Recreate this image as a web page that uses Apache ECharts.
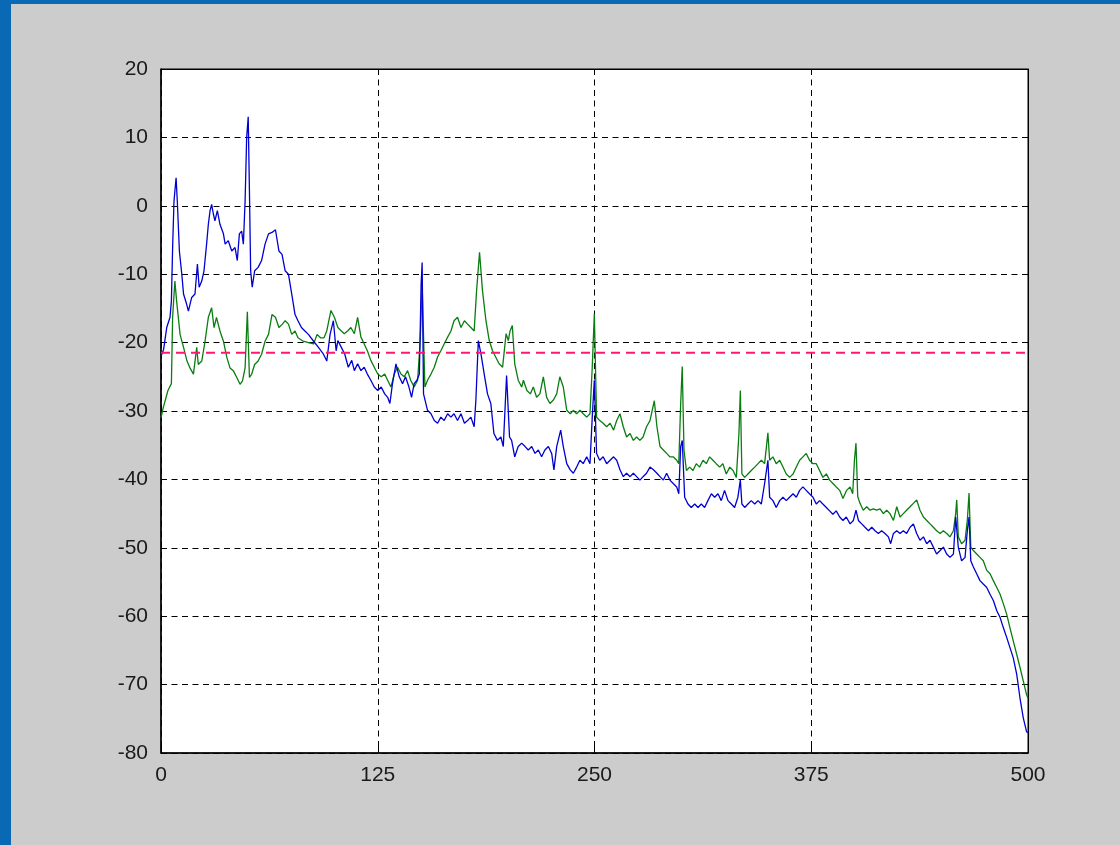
<!DOCTYPE html>
<html>
<head>
<meta charset="utf-8">
<title>spectrum</title>
<script src="https://cdn.jsdelivr.net/npm/echarts@6/dist/echarts.min.js"></script>
<style>
  html, body { margin: 0; padding: 0; background: #0a69b4; }
  #frame { position: absolute; left: 0; top: 0; width: 1120px; height: 845px; background: #0a69b4; }
  #chart { position: absolute; left: 11px; top: 4px; width: 1109px; height: 841px; background: #cccccc; }
</style>
</head>
<body>
<div id="frame"><div id="chart"></div></div>
<script>
// x axis ticks (0..500) and y ticks (-80..20)
const xTicks = [0, 125, 250, 375, 500];
const yTicks = [-80, -70, -60, -50, -40, -30, -20, -10, 0, 10, 20];

// threshold (red dashed)
const thresholdLevel = -21.5;

// blue curve, [x, level]
const blueLevel = [
  [0,-22],[1.5,-21],[3.3,-17.8],[5.2,-16.3],[6,-13.9],[6.7,-6.1],[7.5,0.7],[8.7,4.1],[9.4,0.7],[10.6,-6.6],
  [12,-10],[13,-12.9],[14.8,-14.4],[15.8,-15.4],[17.7,-13.4],[19.6,-12.9],[21,-8.5],[22,-11.9],[23.5,-11],[24.8,-9.5],
  [26.3,-5.6],[27.3,-2.7],[28.3,-0.7],[29.2,0.2],[30.2,-1.2],[31.1,-2.2],[32.5,-0.7],[34,-2.7],[36,-4.1],[37,-5.6],
  [38.8,-5.1],[40.8,-6.6],[42.7,-6.1],[44,-8],[45.2,-4.1],[46.5,-3.7],[47.5,-5.6],[48.5,0.7],[49.4,10],[50.3,13],
  [51,2.2],[51.7,-9.5],[52.6,-11.9],[54,-9.5],[56,-9],[58,-8],[60,-5.6],[62,-4.1],[64,-3.9],[66,-3.5],
  [68,-6.6],[69.8,-7.1],[71.6,-9.5],[73.5,-10],[75.4,-12.9],[77.3,-15.9],[79,-16.8],[81,-17.8],[83,-18.3],[85,-18.8],
  [88,-19.8],[90.8,-20.7],[93.7,-21.7],[95.6,-22.7],[97.5,-18.8],[99.4,-16.8],[101,-21.2],[102,-19.7],[104,-20.7],[106,-21.7],
  [108,-23.6],[110,-22.6],[111.5,-24.1],[113.4,-23.1],[115.3,-24.1],[117.2,-23.6],[119,-24.6],[121,-25.5],[123,-26.5],[125,-27],
  [127,-26.5],[129,-27.5],[130.7,-28],[132,-28.9],[133.5,-26],[135.5,-23.1],[137.4,-25],[139.3,-26],[141,-25],[143,-26.5],
  [144.5,-28],[146,-26],[147.6,-25.5],[149,-24.6],[150,-11.5],[150.6,-8.3],[151.4,-27.5],[153.7,-29.9],[155.7,-30.4],[157.6,-31.4],
  [159.5,-31.8],[161.4,-30.9],[163.3,-31.4],[165.3,-30.4],[167.2,-30.9],[169,-30.4],[171,-31.4],[173,-30.4],[175,-31.8],[176.8,-31.4],
  [178.7,-30.9],[180.6,-32.3],[181.6,-28.4],[183,-19.7],[184.5,-21.6],[186.4,-24.6],[188.3,-27.5],[190.2,-28.9],[192,-33.3],[194,-34.3],
  [196,-33.8],[197.4,-35.2],[199.3,-24.8],[201,-33.8],[202.2,-34.3],[204,-36.7],[206,-35.2],[208,-34.7],[210,-35.2],[211.8,-35.7],
  [213.8,-35.2],[215.7,-36.2],[217.6,-35.7],[219.5,-36.7],[221.4,-35.7],[223.4,-35.2],[225.3,-36.2],[226.6,-38.6],[228.2,-35.2],[230.5,-32.8],
  [232,-35.2],[234,-37.7],[236,-38.6],[237.8,-39.1],[239.7,-38.2],[241.6,-37.2],[243.5,-37.7],[245.5,-36.7],[247.4,-37.7],[248.7,-30.9],
  [249.9,-25.5],[251.2,-36.2],[253,-37.2],[255,-36.7],[257,-37.7],[259,-37.2],[261,-36.7],[262.8,-37.2],[264.7,-38.6],[266.6,-39.6],
  [268.5,-39.1],[270.5,-39.6],[272.4,-39.1],[274.3,-39.6],[276.2,-40.1],[278,-39.6],[280,-39.1],[282,-38.2],[284,-38.6],[286,-39.1],
  [287.8,-39.6],[289.7,-40.1],[291.6,-39.1],[293.5,-40.1],[295.4,-40.6],[297.4,-41.1],[298.6,-42.1],[299.7,-35.2],[300.6,-34.3],[302,-42.6],
  [303.9,-43.6],[305.8,-44.1],[307.8,-43.6],[309.7,-44.1],[311.6,-43.6],[313.5,-44.1],[315.4,-43.1],[317.4,-42.1],[319.3,-42.6],[321.2,-42.1],
  [323.1,-43.1],[325,-41.6],[327,-43.1],[328.9,-43.6],[330.8,-44.1],[332.7,-42.6],[334.1,-40.1],[335,-43.6],[336.6,-44.1],[338.5,-43.6],
  [340.4,-43.1],[342.4,-43.6],[344.3,-43.1],[346.2,-43.6],[348.1,-40.6],[350,-37.2],[351,-42.6],[352.9,-43.1],[354.8,-44.1],[356.8,-43.1],
  [358.7,-42.6],[360.6,-43.1],[362.5,-42.6],[364.5,-42.1],[366.4,-42.6],[368.3,-41.6],[370.2,-41.1],[372.1,-41.6],[374,-42.1],[376,-42.6],
  [377.9,-43.6],[379.8,-43.1],[381.7,-43.6],[383.7,-44.1],[385.6,-44.6],[387.5,-45.1],[389.4,-44.6],[391.4,-45.5],[393.3,-46],[395.2,-45.5],
  [397.4,-46.5],[399.3,-46],[400.8,-44.5],[402.2,-46],[404.1,-46.5],[406,-47],[408,-47.5],[409.9,-47],[411.8,-47.5],[413.7,-47.9],
  [415.6,-47.5],[417.5,-47.9],[419.5,-48.4],[420.8,-49.4],[422.4,-47.9],[424.3,-47.5],[426.2,-47.9],[428.1,-47.5],[430,-47.9],[432,-47],
  [433.9,-46.5],[435.8,-47.9],[437.7,-48.9],[439.7,-48.4],[441.6,-49.4],[443.5,-48.9],[445.4,-49.9],[447.3,-50.9],[449.3,-50.4],[451.2,-49.9],
  [453.1,-50.9],[455,-51.4],[457,-50.9],[458.3,-45.5],[459.8,-49.9],[461.7,-51.9],[463.7,-51.4],[465,-47.5],[466,-45.5],[467,-51.9],
  [468.5,-52.8],[470.4,-53.8],[472.3,-54.8],[474.2,-55.3],[476.2,-55.8],[478.1,-56.8],[480,-57.7],[482,-59.2],[483.9,-60.2],[485.8,-61.7],
  [487.7,-63.1],[489.6,-64.6],[491.5,-66.1],[493.5,-68.5],[495.4,-72],[497.3,-74.9],[499.2,-76.9],[500,-77]
];

// green curve, [x, level]
const greenLevel = [
  [0,-31],[1.3,-29.5],[4,-27],[6,-26],[6.7,-16.3],[8,-11],[9,-13.9],[11,-18.8],[13,-20.7],[15,-22.7],
  [16.7,-23.7],[18.7,-24.6],[20.6,-20.7],[21.5,-23.2],[23.5,-22.7],[25.4,-19.8],[27.3,-16.3],[29.2,-14.9],[30.6,-17.8],[32,-16.3],
  [34,-18.3],[36,-19.8],[38,-22.2],[39.8,-23.7],[41.7,-24.1],[43.7,-25.1],[45.6,-26.1],[47,-25.6],[48.5,-23.7],[49.8,-15.5],
  [51,-25.1],[52.3,-24.6],[54,-23.2],[56,-22.7],[58,-21.7],[60,-19.8],[62,-18.8],[64,-15.9],[66,-16.3],[68,-17.8],
  [70,-17.3],[71.6,-16.8],[73.5,-17.3],[75.4,-18.8],[77.3,-18.3],[79,-19.3],[82,-19.8],[85,-20],[88,-20.2],[90,-18.8],
  [92,-19.3],[94,-19.3],[95.6,-18.3],[98,-15.3],[100,-16.3],[102,-17.8],[104,-18.3],[105.7,-18.7],[107.6,-18.3],[109.5,-17.8],
  [111.5,-18.7],[113.4,-16.3],[115.3,-19.2],[117.2,-20.2],[119,-21.2],[121,-22.6],[123,-23.6],[125,-24.6],[127,-25],[129,-24.6],
  [130.7,-25.5],[132.6,-26.5],[134.5,-24.6],[136.4,-23.6],[138.4,-24.6],[140.3,-25],[142.2,-24.1],[144,-25.5],[146,-26.5],[148,-25.5],
  [149.5,-19.7],[150.6,-11.5],[152.2,-26.5],[153.7,-25.5],[155.7,-24.6],[157.6,-23.6],[159.5,-22.1],[161.4,-21.2],[163.3,-20.2],[165.3,-19.2],
  [167.2,-18.3],[169,-16.8],[171,-16.3],[173,-17.8],[175,-16.8],[176.8,-17.3],[178.7,-17.8],[180.6,-18.3],[182,-12.4],[183.7,-6.8],
  [185.4,-12.4],[187.4,-16.8],[189.3,-19.7],[191.2,-21.2],[193,-22.1],[195,-23.1],[197,-23.6],[199,-18.7],[200.3,-19.7],[201.3,-18.3],
  [202.6,-17.5],[204,-23.1],[206,-25.5],[208,-26.5],[209,-25.5],[211,-27],[213,-27.5],[214.7,-26.5],[216.6,-28],[218.5,-27.5],
  [220.5,-25],[222.4,-28],[224.3,-28.9],[226.3,-28.4],[228.2,-27.5],[230,-25],[232,-26.5],[234,-29.9],[236,-30.4],[237.8,-29.9],
  [239.7,-30.4],[241.6,-29.9],[243.5,-30.4],[245.5,-30.9],[247.4,-30.4],[248.7,-23.6],[249.9,-15.8],[251.2,-30.9],[253,-31.4],[255,-31.8],
  [257,-32.3],[259,-31.8],[261,-32.8],[262.8,-31.4],[264.7,-30.4],[266.6,-32.3],[268.5,-33.8],[270.5,-33.3],[272.4,-34.3],[274.3,-33.8],
  [276.2,-34.3],[278,-33.8],[280,-32.3],[282,-31.4],[284.5,-28.5],[286,-32.3],[287.8,-35.2],[289.7,-35.7],[291.6,-36.2],[293.5,-36.7],
  [295.4,-36.7],[297.4,-37.2],[298.6,-37.7],[299.7,-28.9],[300.6,-23.5],[301.6,-35.7],[303,-38.7],[304.9,-38.2],[306.8,-38.7],[308.7,-37.7],
  [310.6,-38.2],[312.6,-37.2],[314.5,-37.7],[316.4,-36.7],[318.3,-37.2],[320.2,-37.7],[322.2,-38.2],[324,-37.7],[326,-39.2],[328,-38.2],
  [329.9,-38.7],[331.8,-39.7],[333.3,-33.3],[334.1,-27],[335,-39.2],[336.6,-39.7],[338.5,-39.2],[340.4,-38.7],[342.4,-38.2],[344.3,-37.7],
  [346.2,-37.2],[348.1,-37.7],[350,-33.2],[351,-37.2],[352.9,-36.7],[354.8,-37.7],[356.8,-37.2],[358.7,-38.2],[360.6,-39.2],[362.5,-39.7],
  [364.5,-39.2],[366.4,-38.2],[368.3,-37.2],[370.2,-36.7],[372.1,-36.2],[374,-37.2],[376,-37.7],[377.9,-37.7],[379.8,-38.7],[381.7,-39.7],
  [383.7,-39.2],[385.6,-40.1],[387.5,-40.6],[389.4,-41.1],[391.4,-41.6],[393.3,-42.8],[395.4,-41.6],[397.4,-41.1],[398.9,-42.1],[399.9,-37.2],
  [400.8,-34.7],[401.8,-42.5],[403.1,-43.5],[405,-44.5],[407,-44],[408.9,-44.5],[410.8,-44.3],[412.7,-44.5],[414.7,-44.3],[416.6,-45],
  [418.5,-44.5],[420.4,-45],[422.4,-46],[424.3,-44],[426.2,-45.5],[428.1,-45],[430,-44.5],[432,-44],[433.9,-43.5],[435.8,-43],
  [437.7,-44.5],[439.7,-45.5],[441.6,-46],[443.5,-46.5],[445.4,-47],[447.3,-47.5],[449.3,-47.9],[451.2,-47.5],[453.1,-47.9],[455,-48.4],
  [457,-47.5],[458.3,-45],[458.9,-43],[459.8,-48.4],[461.7,-49.4],[463.7,-48.9],[465,-46],[466,-42],[467,-49.9],[468.5,-50.4],
  [470.4,-50.9],[472.3,-51.4],[474.2,-51.9],[476.2,-53.3],[478.1,-53.8],[480,-54.8],[482,-55.8],[483.9,-56.8],[485.8,-58.2],[487.7,-59.7],
  [489.6,-61.7],[491.5,-63.6],[493.5,-65.6],[495.4,-67.5],[497.3,-69.5],[499.2,-71.5],[500,-72]
];

const labelFont = { color: '#1a1a1a', fontSize: 21, fontFamily: '"Liberation Sans", Arial, sans-serif' };
const gridDash = { color: '#000', width: 1, type: [6, 4.5] };

const chart = echarts.init(document.getElementById('chart'));

// axes: bottom/left carry labels, top/right only inward ticks (box look)
const xMin = xTicks[0], xMax = xTicks[xTicks.length - 1], xStep = xTicks[1] - xTicks[0];
const yMin = yTicks[0], yMax = yTicks[yTicks.length - 1], yStep = yTicks[1] - yTicks[0];

const option = {
  animation: false,
  backgroundColor: '#cccccc',
  grid: {
    left: 150, top: 65, width: 867, height: 684,
    show: true, backgroundColor: '#fff', borderColor: '#000', borderWidth: 1
  },
  xAxis: [
    {
      type: 'value', min: xMin, max: xMax, interval: xStep, position: 'bottom',
      axisLine: { show: true, onZero: false, lineStyle: { color: '#000', width: 1.5 } },
      axisTick: { show: true, inside: true, length: 6, lineStyle: { color: '#000' } },
      axisLabel: Object.assign({ margin: 12 }, labelFont),
      splitLine: { show: true, lineStyle: gridDash }
    },
    {
      type: 'value', min: xMin, max: xMax, interval: xStep, position: 'top',
      axisLine: { show: true, onZero: false, lineStyle: { color: '#000' } },
      axisTick: { show: true, inside: true, length: 6, lineStyle: { color: '#000' } },
      axisLabel: { show: false },
      splitLine: { show: false }
    }
  ],
  yAxis: [
    {
      type: 'value', min: yMin, max: yMax, interval: yStep, position: 'left',
      axisLine: { show: true, onZero: false, lineStyle: { color: '#000', width: 1.5 } },
      axisTick: { show: true, inside: true, length: 6, lineStyle: { color: '#000' } },
      axisLabel: Object.assign({ margin: 13 }, labelFont),
      splitLine: { show: true, lineStyle: gridDash }
    },
    {
      type: 'value', min: yMin, max: yMax, interval: yStep, position: 'right',
      axisLine: { show: true, onZero: false, lineStyle: { color: '#000' } },
      axisTick: { show: true, inside: true, length: 6, lineStyle: { color: '#000' } },
      axisLabel: { show: false },
      splitLine: { show: false }
    }
  ],
  series: [
    {
      name: 'green', type: 'line', data: greenLevel, showSymbol: false,
      lineStyle: { color: '#0a7d10', width: 1.3 }, z: 2
    },
    {
      name: 'blue', type: 'line', data: blueLevel, showSymbol: false,
      lineStyle: { color: '#0000d0', width: 1.3 }, z: 3
    },
    {
      name: 'threshold', type: 'line', showSymbol: false,
      data: [[xMin, thresholdLevel], [xMax, thresholdLevel]],
      lineStyle: { color: '#ff1670', width: 2, type: [9, 6] }, z: 4
    }
  ]
};

chart.setOption(option);
window.onresize = chart.resize;
</script>
</body>
</html>
